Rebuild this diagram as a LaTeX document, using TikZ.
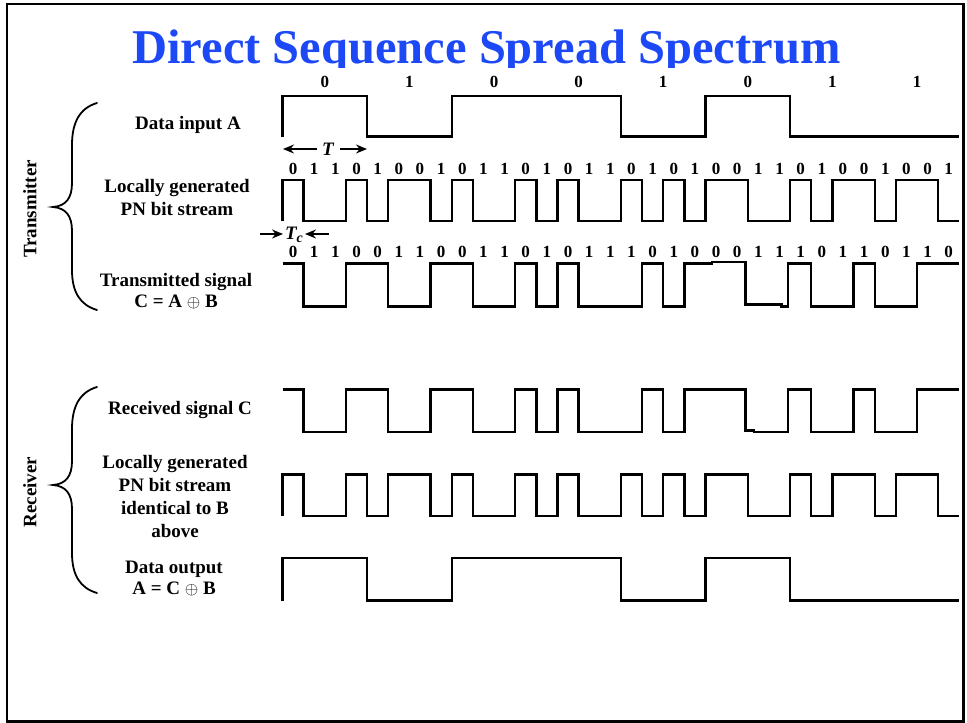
\documentclass[tikz,border=0pt]{standalone}
\usepackage{fontspec}
\setmainfont{Liberation Serif}
\usetikzlibrary{arrows.meta}
\definecolor{titleblue}{RGB}{28,72,245}
\begin{document}
\begin{tikzpicture}[x=1pt,y=-1pt,
  wave/.style={line width=2.4pt, line join=miter, line cap=butt},
  lbl/.style={font=\fontsize{19}{23}\selectfont\bfseries, align=center, inner sep=0pt},
  bitlbl/.style={font=\fontsize{17}{17}\selectfont\bfseries, inner sep=0pt},
  side/.style={font=\fontsize{19}{19}\selectfont\bfseries, rotate=90, inner sep=0pt},
  bracepath/.style={line width=1.8pt, line cap=round},
  dimarrow/.style={line width=1.5pt, -{Stealth[length=11pt,width=9pt]}},
  frame/.style={line width=2.5pt}]
\useasboundingbox (0,0) rectangle (967,723);

% outer frame
\draw[frame] (7,4) rectangle (963.5,721.5);

% title, cut off at its lower edge
\begin{scope}
  \clip (0,0) rectangle (967,67);
  \node[anchor=base, text=titleblue, inner sep=0pt,
        font=\fontsize{48.5}{48.5}\selectfont\bfseries] (title) at (486.5,63)
        {Direct Sequence Spread Spectrum};
\end{scope}

% side captions and braces
\node[side] (tx) at (30,209) {Transmitter};
\node[side] (rx) at (30,492) {Receiver};
\draw[bracepath] (97,103) .. controls (80,108) and (72,122) .. (72,145) -- (72,183)
  .. controls (72,198) and (66,206) .. (53,207)
  .. controls (66,208) and (72,216) .. (72,231) -- (72,270)
  .. controls (72,292) and (80,305) .. (97,310);
\draw[bracepath] (97,387) .. controls (80,392) and (72,406) .. (72,429) -- (72,461)
  .. controls (72,476) and (66,484) .. (53,485)
  .. controls (66,486) and (72,494) .. (72,509) -- (72,553)
  .. controls (72,575) and (80,588) .. (97,593);

% row labels
\node[lbl] (lA) at (188,125) {Data input A};
\node[lbl] (lB) at (177,197) {Locally generated\\PN bit stream};
\node[lbl] (lC) at (176,291) {Transmitted signal\\[-2pt]C = A $\oplus$ B};
\node[lbl] (lR) at (180,410) {Received signal C};
\node[lbl] (lB2) at (175,496) {Locally generated\\PN bit stream\\identical to B\\above};
\node[lbl] (lO) at (174,578) {Data output\\[-2pt]A = C $\oplus$ B};

% bit values
\foreach \b [count=\k from 0] in {0,1,0,0,1,0,1,1}
  \node[bitlbl] (a\k) at ({282.5+84.6*(\k+0.5)},82) {\b};
\foreach \b [count=\k from 0] in {0,1,1,0,1,0,0,1,0,1,1,0,1,0,1,1,0,1,0,1,0,0,1,1,0,1,0,0,1,0,0,1}
  \node[bitlbl] (b\k) at ({282.5+21.15*(\k+0.5)},169) {\b};
\foreach \b [count=\k from 0] in {0,1,1,0,0,1,1,0,0,1,1,0,1,0,1,1,1,0,1,0,0,0,1,1,1,0,1,1,0,1,1,0}
  \node[bitlbl] (c\k) at ({282.5+21.15*(\k+0.5)},252) {\b};

% bit period T
\node[inner sep=0pt, font=\fontsize{19}{19}\selectfont\bfseries\itshape] (Tlab) at (328,149) {T};
\coordinate (TLs) at (317,149);
\coordinate (TLe) at (283,149);
\coordinate (TRs) at (340,149);
\coordinate (TRe) at (367,149);
\draw[dimarrow] (TLs) -- (TLe);
\draw[dimarrow] (TRs) -- (TRe);

% chip period Tc
\node[inner sep=0pt, font=\fontsize{19}{19}\selectfont\bfseries\itshape] (Tclab) at (294,235)
  {T\raisebox{-0.35ex}{\fontsize{14}{14}\selectfont c}};
\coordinate (TcLs) at (260,234);
\coordinate (TcLe) at (283,234);
\coordinate (TcRs) at (329,234);
\coordinate (TcRe) at (305,234);
\draw[dimarrow] (TcLs) -- (TcLe);
\draw[dimarrow] (TcRs) -- (TcRe);

% waveforms, x measured in chips
\begin{scope}[x=21.15pt, xshift=282.5pt]
  % data input A
  \draw[wave] (0,136.5) -- (0,96) -| (4,136.5) -| (8,96) -| (16,136.5) -| (20,96) -| (24,136.5) -- (32,136.5);
  % PN bit stream B
  \draw[wave] (0,221) -- (0,180) -| (1,221) -| (3,180) -| (4,221) -| (5,180) -| (7,221) -| (8,180)
    -| (9,221) -| (11,180) -| (12,221) -| (13,180) -| (14,221) -| (16,180) -| (17,221) -| (18,180)
    -| (19,221) -| (20,180) -| (22,221) -| (24,180) -| (25,221) -| (26,180) -| (28,221) -| (29,180)
    -| (31,221) -- (32,221);
  % transmitted signal C
  \draw[wave] (0,263.5) -| (1,306.5) -| (3,263.5) -| (5,306.5) -| (7,263.5) -| (9,306.5)
    -| (11,263.5) -| (12,306.5) -| (13,263.5) -| (14,306.5) -| (17,263.5) -| (18,306.5)
    -| (19,263.5) -| (20.3,262) -| (21.9,304.5) -| (23.6,306.5) -| (23.9,263.5) -| (25,306.5)
    -| (27,263.5) -| (28,306.5) -| (30,263.5) -- (32,263.5);
  % received signal C
  \draw[wave] (0,389.5) -| (1,432) -| (3,389.5) -| (5,432) -| (7,389.5) -| (9,432)
    -| (11,389.5) -| (12,432) -| (13,389.5) -| (14,432) -| (17,389.5) -| (18,432)
    -| (19,389.5) -| (21.9,430.5) -| (22.3,432) -| (23.9,389.5) -| (25,432)
    -| (27,389.5) -| (28,432) -| (30,389.5) -- (32,389.5);
  % local PN bit stream at the receiver
  \draw[wave] (0,516) -- (0,474.5) -| (1,516) -| (3,474.5) -| (4,516) -| (5,474.5) -| (7,516) -| (8,474.5)
    -| (9,516) -| (11,474.5) -| (12,516) -| (13,474.5) -| (14,516) -| (16,474.5) -| (17,516) -| (18,474.5)
    -| (19,516) -| (20,474.5) -| (22,516) -| (24,474.5) -| (25,516) -| (26,474.5) -| (28,516) -| (29,474.5)
    -| (31,516) -- (32,516);
  % data output A
  \draw[wave] (0,600.5) -- (0,558) -| (4,600.5) -| (8,558) -| (16,600.5) -| (20,558) -| (24,600.5) -- (32,600.5);
\end{scope}
\end{tikzpicture}
\end{document}
